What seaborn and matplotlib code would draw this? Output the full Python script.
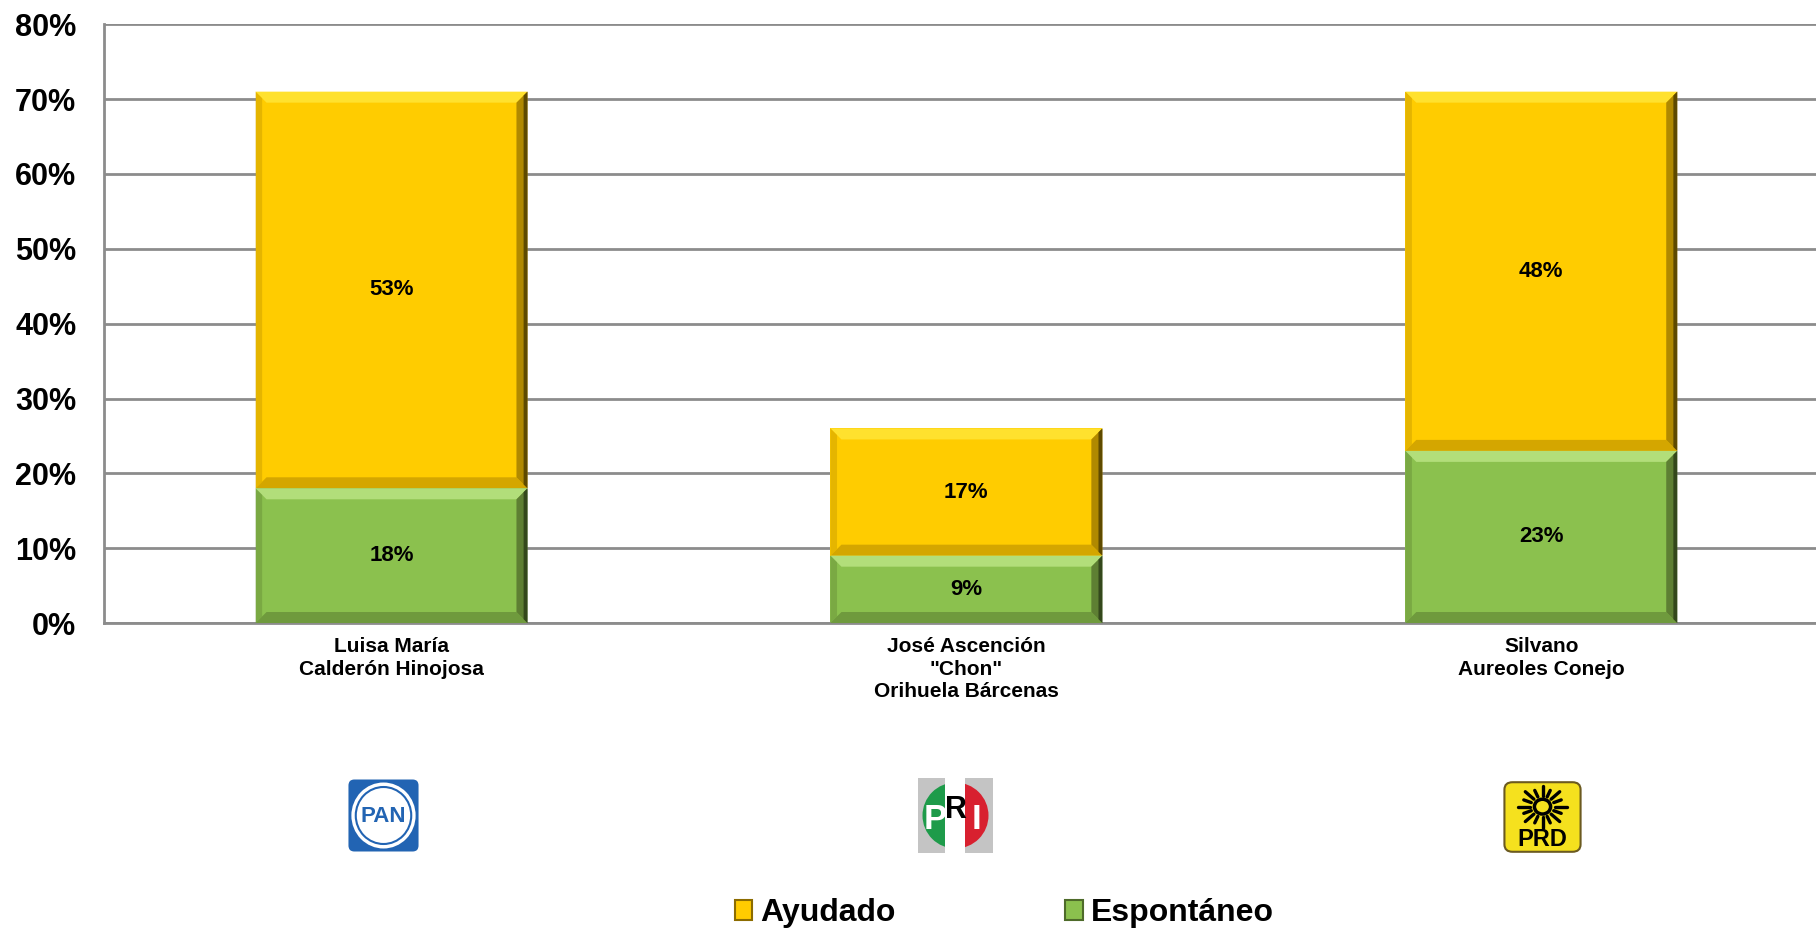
import numpy as np
import pandas as pd
import seaborn as sns
import matplotlib.pyplot as plt
from matplotlib.patches import Polygon, Patch, FancyBboxPatch, Circle, Rectangle

# datos
candidatos = ['Luisa María\nCalderón Hinojosa',
              'José Ascención\n"Chon"\nOrihuela Bárcenas',
              'Silvano\nAureoles Conejo']
partidos = ['PAN', 'PRI', 'PRD']
espontaneo = [18, 9, 23]
ayudado = [53, 17, 48]
y_ticks = [0, 10, 20, 30, 40, 50, 60, 70, 80]

AMARILLO = '#FFCC00'
VERDE = '#8BC14E'
GRIS = '#8C8C8C'

sns.set_theme(style='white')
plt.rcParams['font.family'] = ['Liberation Sans', 'DejaVu Sans']
plt.rcParams['font.weight'] = 'bold'
plt.rcParams['text.color'] = 'black'
plt.rcParams['xtick.labelcolor'] = 'black'
plt.rcParams['ytick.labelcolor'] = 'black'

df = pd.DataFrame({'candidato': candidatos, 'espontaneo': espontaneo, 'ayudado': ayudado})
df['total'] = df['espontaneo'] + df['ayudado']

W, H = 1816, 931
fig = plt.figure(figsize=(W / 100, H / 100), dpi=100)
ax_rect = [0.0573, 0.3308, 0.9497, 0.6431]
ax = fig.add_axes(ax_rect)

BAR_W = 0.473
sns.barplot(data=df, x='candidato', y='total', color=AMARILLO, width=BAR_W,
            saturation=1, errorbar=None, ax=ax, zorder=2, linewidth=0)
sns.barplot(data=df, x='candidato', y='espontaneo', color=VERDE, width=BAR_W,
            saturation=1, errorbar=None, ax=ax, zorder=2, linewidth=0)

ax.set_xlim(-0.5, 2.5)
ax.set_ylim(0, 80)
ax.set_xlabel('')
ax.set_ylabel('')
ax.set_axisbelow(True)

# ejes y rejilla
ax.set_yticks(y_ticks)
ax.set_yticklabels([f'{v}%' for v in y_ticks], fontsize=22, fontweight='bold', color='black')
ax.tick_params(axis='y', direction='out', length=7, width=1.5, color=GRIS, pad=13)
ax.yaxis.grid(True, color=GRIS, lw=2)
ax.xaxis.grid(False)
for s in ['top', 'right']:
    ax.spines[s].set_visible(False)
for s in ['left', 'bottom']:
    ax.spines[s].set_color(GRIS)
    ax.spines[s].set_linewidth(2)

ax.set_xticks([0, 1, 2])
ax.set_xticklabels(candidatos, fontsize=15, fontweight='bold', linespacing=1.25, color='black')
ax.set_xticks([-0.5, 0.5, 1.5, 2.5], minor=True)
ax.tick_params(axis='x', which='major', length=0, pad=10)
ax.tick_params(axis='x', which='minor', direction='out', length=6, width=1.5, color=GRIS)

# efecto biselado de las barras
px_x = 3 / (ax_rect[2] * W)
px_y = 80 / (ax_rect[3] * H)
bx, by = 11 * px_x, 11 * px_y


def bisel(x0, x1, y0, y1, claro, oscuro, medio, borde):
    ax.add_patch(Polygon([(x0, y1), (x1, y1), (x1 - bx, y1 - by), (x0 + bx, y1 - by)],
                         closed=True, fc=claro, ec='none', zorder=3))
    ax.add_patch(Polygon([(x0, y0), (x1, y0), (x1 - bx, y0 + by), (x0 + bx, y0 + by)],
                         closed=True, fc=medio, ec='none', zorder=3))
    ax.add_patch(Polygon([(x0, y0), (x0, y1), (x0 + bx * 0.6, y1 - by * 0.6), (x0 + bx * 0.6, y0 + by * 0.6)],
                         closed=True, fc=medio, ec='none', zorder=3, alpha=0.6))
    ax.add_patch(Polygon([(x1, y0), (x1, y1), (x1 - bx, y1 - by), (x1 - bx, y0 + by)],
                         closed=True, fc=oscuro, ec='none', zorder=3))
    ax.add_patch(Polygon([(x1, y0), (x1, y1), (x1 - bx * 0.35, y1 - by * 0.35), (x1 - bx * 0.35, y0 + by * 0.35)],
                         closed=True, fc=borde, ec='none', zorder=3))


barras = ax.patches[:3]
for i, p in enumerate(barras):
    x0 = p.get_x()
    x1 = x0 + p.get_width()
    e, a = espontaneo[i], ayudado[i]
    bisel(x0, x1, e, e + a, '#FFE12E', '#B08900', '#D4A600', '#5E4A00')
    bisel(x0, x1, 0, e, '#B2DE7A', '#5E7F33', '#6F9A3D', '#34481C')
    ax.text(i, e / 2, f'{e}%', ha='center', va='center', fontsize=16,
            fontweight='bold', color='black', zorder=5)
    ax.text(i, e + a / 2, f'{a}%', ha='center', va='center', fontsize=16,
            fontweight='bold', color='black', zorder=5)

# leyenda
handles = [Patch(facecolor=AMARILLO, edgecolor='#8C6C00', lw=1.5, label='Ayudado'),
           Patch(facecolor=VERDE, edgecolor='#4E6B2A', lw=1.5, label='Espontáneo')]
fig.legend(handles=handles, loc='center', bbox_to_anchor=(0.553, 0.019), ncol=2,
           frameon=False, prop={'size': 23, 'weight': 'bold'}, labelcolor='black',
           handlelength=0.55, handleheight=0.55, handletextpad=0.25, columnspacing=5.3,
           borderpad=0)


# logotipos de partidos
def eje_logo(x0, y0, w, h):
    lx = fig.add_axes([x0 / W, 1 - (y0 + h) / H, w / W, h / H])
    lx.set_xlim(0, 1)
    lx.set_ylim(0, 1)
    lx.axis('off')
    return lx


def logo_pan(lx):
    azul = '#2264B3'
    lx.add_patch(FancyBboxPatch((0.02, 0.02), 0.96, 0.96,
                                boxstyle='round,pad=0,rounding_size=0.08', fc=azul, ec='none'))
    lx.add_patch(Circle((0.5, 0.5), 0.44, fc='white', ec='none'))
    lx.add_patch(Circle((0.5, 0.5), 0.38, fc='white', ec=azul, lw=1.5))
    lx.text(0.5, 0.49, 'PAN', color=azul, fontsize=16, ha='center', va='center',
            fontweight='bold', family=['Liberation Sans Narrow', 'Liberation Sans'])


def logo_pri(lx):
    lx.add_patch(Rectangle((0, 0), 1, 1, fc='#C4C4C4', ec='none'))
    lx.add_patch(Rectangle((0.36, 0), 0.27, 1, fc='white', ec='none'))
    circ = Circle((0.5, 0.5), 0.44, transform=lx.transData)
    for a, b, c in [(0, 0.36, '#1E9B4A'), (0.36, 0.63, 'white'), (0.63, 1, '#D8202F')]:
        r = Rectangle((a, 0), b - a, 1, fc=c, ec='none')
        lx.add_patch(r)
        r.set_clip_path(circ)
    lx.text(0.23, 0.45, 'P', color='white', fontsize=25, ha='center', va='center', fontweight='bold')
    lx.text(0.5, 0.57, 'R', color='black', fontsize=22, ha='center', va='center', fontweight='bold')
    lx.text(0.78, 0.45, 'I', color='white', fontsize=25, ha='center', va='center', fontweight='bold')


def logo_prd(lx):
    lx.add_patch(FancyBboxPatch((0.03, 0.03), 0.94, 0.94,
                                boxstyle='round,pad=0,rounding_size=0.1', fc='#F5E11E',
                                ec='#6B5A20', lw=1.5))
    cx, cy = 0.5, 0.64
    lx.add_patch(Circle((cx, cy), 0.1, fc='none', ec='black', lw=2.5))
    for k, ang in enumerate(np.linspace(0, 2 * np.pi, 16, endpoint=False)):
        r1 = 0.3 if k % 2 == 0 else 0.25
        lx.plot([cx + 0.15 * np.cos(ang), cx + r1 * np.cos(ang)],
                [cy + 0.15 * np.sin(ang) * 0.95, cy + r1 * np.sin(ang) * 0.95],
                color='black', lw=2.4, solid_capstyle='round')
    lx.text(0.5, 0.2, 'PRD', color='black', fontsize=17, ha='center', va='center', fontweight='bold')


logo_pan(eje_logo(347, 778, 73, 75))
logo_pri(eje_logo(918, 778, 75, 75))
logo_prd(eje_logo(1502, 780, 81, 74))

fig.savefig('out.png', dpi=100)
